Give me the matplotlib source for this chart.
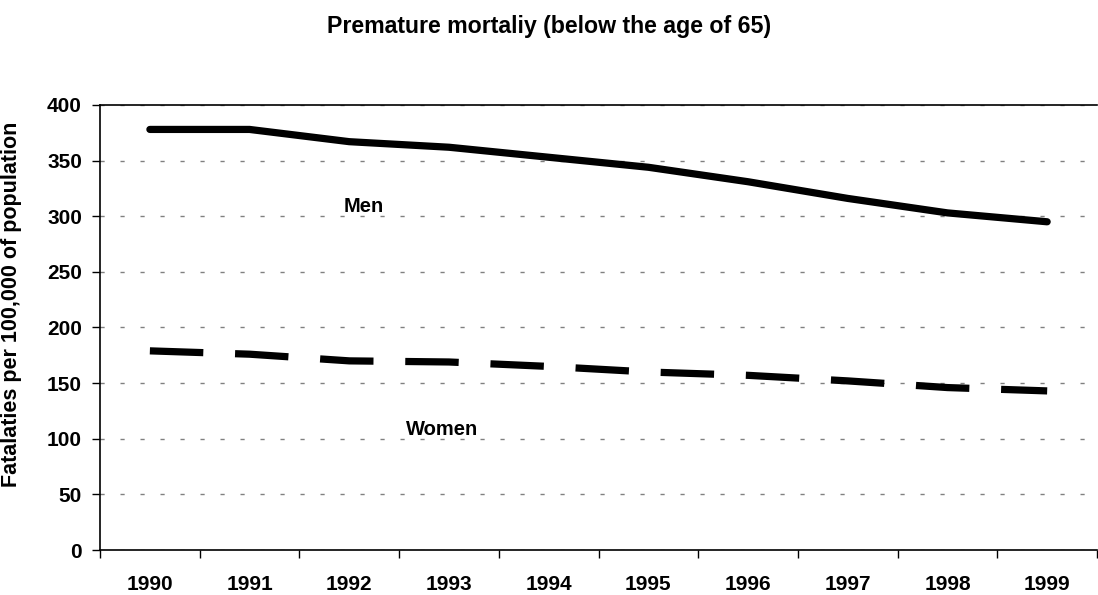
import matplotlib.pyplot as plt
from matplotlib.ticker import FixedLocator

plt.rcParams['font.family'] = ['Liberation Sans', 'DejaVu Sans']

years = ['1990', '1991', '1992', '1993', '1994', '1995', '1996', '1997', '1998', '1999']
men = [378, 378, 367, 362, 353, 344, 331, 316, 303, 295]
women = [179, 176, 170, 169, 165, 160, 157, 152, 146, 143]
yticks = [0, 50, 100, 150, 200, 250, 300, 350, 400]

fig = plt.figure(figsize=(10.98, 5.95), dpi=100)
ax = fig.add_axes([0.0911, 0.0756, 0.908, 0.748])

x = list(range(len(years)))
ax.plot(x, men, color='black', lw=5.2, solid_capstyle='round', solid_joinstyle='round')
ax.plot(x, women, color='black', lw=5.2, dashes=(7.4, 4.4), dash_capstyle='butt')

ax.set_xlim(-0.5, len(years) - 0.5)
ax.set_ylim(0, 400)
ax.set_yticks(yticks)
ax.set_xticks(x)
ax.set_xticklabels(years)
ax.xaxis.set_minor_locator(FixedLocator([i - 0.5 for i in range(len(years) + 1)]))
ax.tick_params(axis='x', which='major', length=0, pad=18, labelsize=15)
ax.tick_params(axis='x', which='minor', length=6, width=1, direction='out')
ax.tick_params(axis='y', length=6, width=1, pad=7, labelsize=15)
for lab in ax.get_xticklabels() + ax.get_yticklabels():
    lab.set_fontweight('bold')

# dotted grey gridlines like the excel original
ax.yaxis.grid(True, color='#808080', ls=(0, (3, 11.4)), lw=1)
ax.set_axisbelow(True)
ax.spines['right'].set_visible(False)
for s in ['left', 'bottom', 'top']:
    ax.spines[s].set_linewidth(1.2)

ax.set_ylabel('Fatalaties per 100,000 of population', fontsize=15.5, fontweight='bold')
ax.yaxis.set_label_coords(-0.078, 0.551)
fig.text(0.5, 0.955, 'Premature mortaliy (below the age of 65)', ha='center', va='center',
         fontsize=16.7, fontweight='bold')

ax.text(2.15, 309, 'Men', ha='center', va='center', fontsize=14.5, fontweight='bold')
ax.text(2.93, 108, 'Women', ha='center', va='center', fontsize=14.5, fontweight='bold')

fig.savefig('out.png', dpi=100)
